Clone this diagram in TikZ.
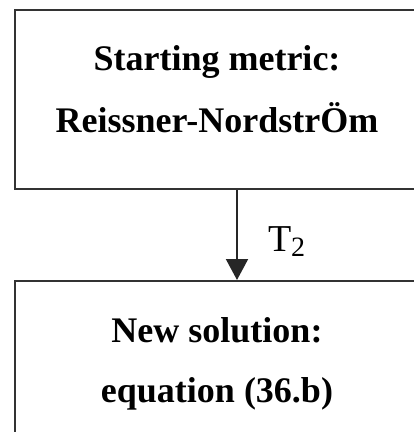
\documentclass[tikz,border=0pt]{standalone}
\usepackage{fontspec}
\setmainfont{Liberation Serif}
\usetikzlibrary{arrows.meta}

\tikzset{
  box/.style={draw=black!80, line width=2bp, minimum width=446bp, inner sep=0pt, anchor=north west},
  title/.style={font=\fontsize{36bp}{40bp}\selectfont\bfseries, anchor=base, inner sep=0pt},
  flow/.style={line width=2bp, draw=black!85, -{Triangle[width=22bp,length=21bp]}}
}

\begin{document}
\begin{tikzpicture}[x=1bp,y=-1bp]
\useasboundingbox (0,0) rectangle (414,432);
\begin{scope}
\clip (0,0) rectangle (414,432);
% the two boxes
\node[box, minimum height=179bp] (start) at (14,9) {};
\node[box, minimum height=200bp] (new) at (14,280) {};
% their texts
\node[title] (start1) at (217,70) {Starting metric:};
\node[title] (start2) at (217,132) {Reissner-NordstrÖm};
\node[title] (new1) at (217,342) {New solution:};
\node[title] (new2) at (217,402) {equation (36.b)};
% the map between them
\draw[flow] (start.south -| 237,0) -- (new.north -| 237,0)
  node[pos=0.57, right=30bp, font=\fontsize{38bp}{40bp}\selectfont, inner sep=0pt] (map) {T\raisebox{-0.3ex}{\fontsize{28bp}{30bp}\selectfont 2}};
\end{scope}
\end{tikzpicture}
\end{document}
